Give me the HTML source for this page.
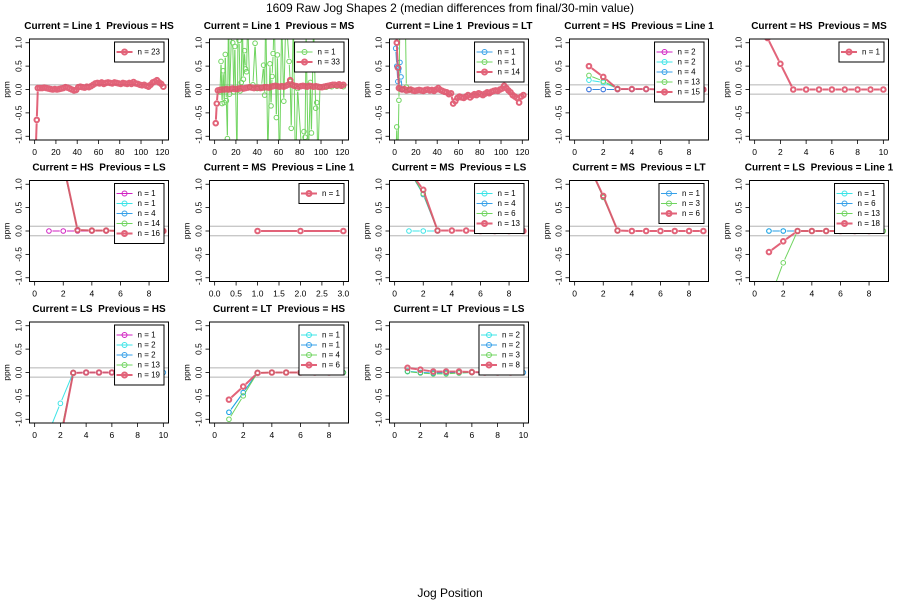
<!DOCTYPE html>
<html><head><meta charset="utf-8">
<style>
html,body{margin:0;padding:0;background:#fff;}
svg{display:block;font-family:"Liberation Sans",Arial,sans-serif;}
text{white-space:pre;}
</style></head>
<body>
<svg id="chart" width="900" height="600" viewBox="0 0 900 600" xmlns="http://www.w3.org/2000/svg">
<rect x="0" y="0" width="900" height="600" fill="#fff"/>
<text x="450" y="12" text-anchor="middle" font-size="12" fill="#000">1609 Raw Jog Shapes 2 (median differences from final/30-min value)</text>
<text x="450" y="597" text-anchor="middle" font-size="12" fill="#000">Jog Position</text>
<g id="panels"></g>
</svg>
<script>
// ---------- colours ----------
const RED="#DF536B", GREEN="#61D04F", BLUE="#2297E6", CYAN="#28E2E5", MAG="#CD0BBC";

// ---------- data ----------
const p1_red_x=[1,2,3,5,7,9,11,13,15,17,19,21,23,25,27,29,31,33,35,37,39,41,43,45,47,49,51,53,55,57,59,61,63,65,67,69,71,73,75,77,79,81,83,85,87,89,91,93,95,97,99,101,103,105,107,109,111,113,115,117,119,121];
const p1_red_y=[-1.3,-0.65,0.03,0.03,0.03,0.04,0.03,0.02,0.01,0.0,0.01,0.0,0.01,0.02,0.03,0.05,0.04,0.02,0.0,-0.02,-0.01,0.05,0.06,0.05,0.04,0.06,0.05,0.07,0.1,0.13,0.14,0.13,0.15,0.12,0.14,0.15,0.14,0.13,0.15,0.14,0.13,0.12,0.14,0.13,0.12,0.14,0.12,0.16,0.13,0.12,0.1,0.09,0.1,0.08,0.06,0.1,0.15,0.17,0.2,0.15,0.12,0.06];

const p2_red_x=p1_red_x;
const p2_red_y=[-0.72,-0.3,-0.02,-0.01,0.0,0.0,0.01,0.0,0.01,0.02,0.01,0.01,0.02,0.03,0.02,0.03,0.04,0.05,0.04,0.03,0.04,0.04,0.03,0.04,0.05,0.05,0.04,0.06,0.07,0.08,0.07,0.06,0.07,0.06,0.08,0.1,0.2,0.1,0.08,0.07,0.06,0.07,0.08,0.07,0.06,0.08,0.07,0.06,0.07,0.06,0.05,0.05,0.06,0.07,0.08,0.09,0.1,0.1,0.09,0.11,0.08,0.1];
const p2_green_x=[5,6,7,8,9,10,11,12,13,14,16,17,18,19,21,22,23,24,25,26,27,28,29,30,31,33,36,38,40,44,46,47,48,50,52,53,54,55,56,58,59,61,63,65,67,70,71,72,74,76,78,82,84,85,86,88,90,91,93,95,96,97,99,105,110,115,121];
const p2_green_y=[-0.05,0.6,-0.3,0.4,-0.28,0.75,-0.24,-1.05,1.8,-0.1,1.3,1.0,-0.05,0.92,-1.5,1.4,1.05,-0.03,0.15,1.6,0.22,0.83,0.44,0.38,1.5,0.05,0.1,0.99,0.02,0.05,0.52,-0.12,1.7,-1.4,0.55,-0.35,0.28,0.77,1.6,-0.6,0.74,-1.7,1.5,-0.25,1.6,0.6,0.17,-0.83,1.5,-1.8,0.02,-1.4,-0.9,-1.02,1.2,-1.6,0.15,-0.93,1.4,-0.4,-0.28,-1.6,0.05,0.05,0.06,0.07,0.06];

const p3_blue_x=[1,2,3,4,5,6,7];
const p3_blue_y=[0.88,0.5,0.17,0.45,0.58,0.27,0.0];
const p3_green_x=[1,2,3,4,5,10,11,14];
const p3_green_y=[-1.6,-0.8,-1.6,-0.23,1.6,1.6,0.05,0.0];
const p3_red_x=[1,2,3,4,5,7,9,11,13,15,17,19,21,23,25,27,29,31,33,35,37,39,41,43,45,47,49,51,53,55,57,59,61,63,65,67,69,71,73,75,77,79,81,83,85,87,89,91,93,95,97,99,101,103,105,107,109,111,113,115,117,119,121];
const p3_red_y=[1.3,1.0,0.47,0.03,0.02,0.0,0.01,-0.02,-0.01,0.0,-0.02,-0.03,-0.02,-0.01,-0.02,-0.03,-0.01,0.0,-0.02,-0.01,-0.03,0.0,0.03,-0.01,-0.03,-0.05,-0.06,-0.1,-0.08,-0.3,-0.25,-0.18,-0.15,-0.17,-0.18,-0.15,-0.12,-0.17,-0.13,-0.1,-0.12,-0.08,-0.1,-0.12,-0.09,-0.06,-0.08,-0.05,-0.03,-0.02,-0.03,0.0,0.02,0.08,0.03,-0.02,-0.06,-0.12,-0.15,-0.18,-0.28,-0.15,-0.12];

const p4_mag_y=[0,0,0];
const p4_cyan_y=[0.2,0.15,0.02];
const p4_blue_y=[0,0,0,0,0,0,0,0,0];
const p4_green_y=[0.3,0.18,0.02];
const p4_red_y=[0.5,0.27,0.01,0.01,0.01,0.0,0.0,0.0,0.0];

const p5_red_y=[1.1,0.55,0,0,0,0,0,0,0,0];

const p6_mag_y=[0,0,0,0,0,0,0,0,0];
const p6_cyan_y=[1.6,1.4,0.02];
const p6_blue_y=[1.6,1.4,0.02];
const p6_green_y=[1.6,1.4,0.02,0.01,0.01,0,0,0,0];
const p6_red_y=[1.6,1.45,0.02,0.01,0.01,0,0,0,0];

const p7_red_y=[0,0,0];

const p8_cyan_y=[0,0,0];
const p8_blue_y=[1.3,0.78,0.01];
const p8_green_y=[1.3,0.8,0.01];
const p8_red_y=[1.3,0.88,0.01,0.01,0.01,0,0,0,0];

const p9_blue_y=[1.4,0.72,0.01];
const p9_green_y=[1.4,0.72,0.01];
const p9_red_y=[1.4,0.75,0.01,0,0,0,0,0,0];

const p10_cyan_y=[0,0,0];
const p10_blue_y=[0,0,0,0,0,0];
const p10_green_y=[-1.5,-0.68,0.0,0,0,0,0,0,0];
const p10_red_y=[-0.45,-0.22,0.0,0,0,0,0,0];

const p11_mag_y=[-1.4,-1.43,0.0];
const p11_cyan_y=[-1.34,-0.66,0.0];
const p11_blue_y=[-1.4,-1.43,0.0,0,0,0,0,0,0,0];
const p11_green_y=[-1.4,-1.34,0.0];
const p11_red_y=[-1.5,-1.43,-0.01,0,0,0];

const p12_cyan_y=[-0.85,-0.43,0.0];
const p12_blue_y=[-0.85,-0.43,0.0,0,0,0,0,0,0];
const p12_green_y=[-1.0,-0.5,0.0,0,0,0,0,0,0];
const p12_red_y=[-0.58,-0.3,-0.01,0,0,0,0,0];

const p13_cyan_y=[0.03,0.0,-0.02,-0.01,-0.01,0];
const p13_blue_y=[0.02,0.0,-0.01,0,0,0,0,0,0,0];
const p13_green_y=[0.02,-0.01,-0.03,-0.03,-0.01,0];
const p13_red_y=[0.1,0.06,0.02,0.02,0.02,0.01,0,0,0];

const ticks_wide=[0,20,40,60,80,100,120];
const ticks_9=[0,2,4,6,8];
const ticks_10=[0,2,4,6,8,10];
const ticks_3=[0,0.5,1,1.5,2,2.5,3];
const ticks_3_labels=["0.0","0.5","1.0","1.5","2.0","2.5","3.0"];
const yticks=[-1,-0.5,0,0.5,1];
const ytick_labels=["-1.0","-0.5","0.0","0.5","1.0"];

function idx(arr){const r=[];for(let i=0;i<arr.length;i++)r.push(i+1);return r;}
function S(col,n,y,x,lw){return {col:col,n:n,y:y,x:x||idx(y),lw:lw||1};}

const panels=[
 {t:"Current = Line 1  Previous = HS",xr:[0,121],xt:ticks_wide,s:[S(RED,23,p1_red_y,p1_red_x,2)]},
 {t:"Current = Line 1  Previous = MS",xr:[0,121],xt:ticks_wide,s:[S(GREEN,1,p2_green_y,p2_green_x,1),S(RED,33,p2_red_y,p2_red_x,2)]},
 {t:"Current = Line 1  Previous = LT",xr:[0,121],xt:ticks_wide,s:[S(BLUE,1,p3_blue_y,p3_blue_x,1),S(GREEN,1,p3_green_y,p3_green_x,1),S(RED,14,p3_red_y,p3_red_x,2)]},
 {t:"Current = HS  Previous = Line 1",xr:[0,9],xt:ticks_9,s:[S(MAG,2,p4_mag_y),S(CYAN,2,p4_cyan_y),S(BLUE,4,p4_blue_y),S(GREEN,13,p4_green_y),S(RED,15,p4_red_y,null,2)]},
 {t:"Current = HS  Previous = MS",xr:[0,10],xt:ticks_10,s:[S(RED,1,p5_red_y,null,2)]},
 {t:"Current = HS  Previous = LS",xr:[0,9],xt:ticks_9,s:[S(MAG,1,p6_mag_y),S(CYAN,1,p6_cyan_y),S(BLUE,4,p6_blue_y),S(GREEN,14,p6_green_y),S(RED,16,p6_red_y,null,2)]},
 {t:"Current = MS  Previous = Line 1",xr:[0,3],xt:ticks_3,xl:ticks_3_labels,s:[S(RED,1,p7_red_y,null,2)]},
 {t:"Current = MS  Previous = LS",xr:[0,9],xt:ticks_9,s:[S(CYAN,1,p8_cyan_y),S(BLUE,4,p8_blue_y),S(GREEN,6,p8_green_y),S(RED,13,p8_red_y,null,2)]},
 {t:"Current = MS  Previous = LT",xr:[0,9],xt:ticks_9,s:[S(BLUE,1,p9_blue_y),S(GREEN,3,p9_green_y),S(RED,6,p9_red_y,null,2)]},
 {t:"Current = LS  Previous = Line 1",xr:[0,9],xt:ticks_9,s:[S(CYAN,1,p10_cyan_y),S(BLUE,6,p10_blue_y),S(GREEN,13,p10_green_y),S(RED,18,p10_red_y,null,2)]},
 {t:"Current = LS  Previous = HS",xr:[0,10],xt:ticks_10,s:[S(MAG,1,p11_mag_y),S(CYAN,2,p11_cyan_y),S(BLUE,2,p11_blue_y),S(GREEN,13,p11_green_y),S(RED,19,p11_red_y,null,2)]},
 {t:"Current = LT  Previous = HS",xr:[0,9],xt:ticks_9,s:[S(CYAN,1,p12_cyan_y),S(BLUE,1,p12_blue_y),S(GREEN,4,p12_green_y),S(RED,6,p12_red_y,null,2)]},
 {t:"Current = LT  Previous = LS",xr:[0,10],xt:ticks_10,s:[S(CYAN,2,p13_cyan_y),S(BLUE,2,p13_blue_y),S(GREEN,3,p13_green_y),S(RED,8,p13_red_y,null,2)]}
];

const NS="http://www.w3.org/2000/svg";
function el(tag,attrs,parent){const e=document.createElementNS(NS,tag);for(const k in attrs)e.setAttribute(k,attrs[k]);if(parent)parent.appendChild(e);return e;}
const root=document.getElementById("panels");

panels.forEach((p,pi)=>{
  const col=pi%5,row=Math.floor(pi/5);
  const L=29.5+180*col,T=39+141.5*row,W=139,H=101;
  const ext=(p.xr[1]-p.xr[0])*0.04;
  const x0=p.xr[0]-ext,x1=p.xr[1]+ext;
  const sx=v=>L+(v-x0)/(x1-x0)*W;
  const sy=v=>T+(1.08-v)/2.16*H;
  const g=el("g",{},root);
  
  
  const clipId="clip"+pi;
  const cp=el("clipPath",{id:clipId},g);
  el("rect",{x:L,y:T,width:W,height:H},cp);
  const tt=el("text",{x:L+W/2,y:T-10,"text-anchor":"middle","font-size":"10","font-weight":"bold","xml:space":"preserve"},g);
  tt.textContent=p.t;
  
  
  [0.1,-0.1].forEach(v=>{
    const ln=el("line",{x1:L,x2:L+W,y1:sy(v),y2:sy(v),stroke:"#c8c8c8","stroke-width":"1.3"},g);
    
    
  });
  const plot=el("g",{"clip-path":"url(#"+clipId+")"},g);
  p.s.forEach(s=>{
    const sg=el("g",{stroke:s.col,fill:"none","stroke-width":s.lw,opacity:"0.9"},plot);
    
    
    const pts=s.y.map((v,i)=>[sx(s.x[i]),sy(v)]);
    const gap=3.5;
    for(let i=0;i<pts.length-1;i++){
      const [ax,ay]=pts[i],[bx,by]=pts[i+1];
      const d=Math.hypot(bx-ax,by-ay);
      if(d>2*gap){
        const ux=(bx-ax)/d,uy=(by-ay)/d;
        const seg=el("line",{x1:ax+ux*gap,y1:ay+uy*gap,x2:bx-ux*gap,y2:by-uy*gap},sg);
        
        
      }
    }
    pts.forEach(pt=>{
      const c=el("circle",{cx:pt[0],cy:pt[1],r:2.3},sg);
      
      
    });
  });
  const bx=el("rect",{x:L,y:T,width:W,height:H,fill:"none",stroke:"#000","stroke-width":"1"},g);
  
  
  p.xt.forEach((v,i)=>{
    const X=sx(v);
    const tk=el("line",{x1:X,x2:X,y1:T+H,y2:T+H+4,stroke:"#000","stroke-width":"0.8"},g);
    
    
    const lb=el("text",{x:X,y:T+H+15,"text-anchor":"middle","font-size":"8.5"},g);
    lb.textContent=p.xl?p.xl[i]:String(v);
    
    
  });
  yticks.forEach((v,i)=>{
    const Y=sy(v);
    const tk=el("line",{x1:L-4,x2:L,y1:Y,y2:Y,stroke:"#000","stroke-width":"0.8"},g);
    
    
    const lb=el("text",{x:0,y:0,"text-anchor":"middle","font-size":"8.5",transform:"translate("+(L-8)+","+Y+") rotate(-90)"},g);
    lb.textContent=ytick_labels[i];
    
    
  });
  const yl=el("text",{x:0,y:0,"text-anchor":"middle","font-size":"8.5",transform:"translate("+(L-20)+","+(T+H/2)+") rotate(-90)"},g);
  yl.textContent="ppm";
  
  
  const lg=el("g",{},g);
  
  
  const lbox=el("rect",{fill:"#fff",stroke:"#000","stroke-width":"1"},lg);
  let maxW=0;const texts=[];
  p.s.forEach((s,i)=>{
    const tx=el("text",{x:0,y:0,"font-size":"8","dominant-baseline":"central","xml:space":"preserve"},lg);
    tx.textContent="n = "+s.n;
    
    
    texts.push(tx);
    let w=0;try{w=tx.getComputedTextLength();}catch(e){}
    if(!w)w=tx.textContent.length*4;
    maxW=Math.max(maxW,w);
  });
  const LW=23+maxW+4, LH=10*p.s.length+10;
  const LX=L+W-4.5-LW, LY=T+3;
  lbox.setAttribute("x",LX);lbox.setAttribute("y",LY);
  lbox.setAttribute("width",LW);lbox.setAttribute("height",LH);
  p.s.forEach((s,i)=>{
    const cy=LY+10+10*i;
    const sym=el("g",{stroke:s.col,fill:"none","stroke-width":s.lw,opacity:"0.9"},lg);
    
    
    el("line",{x1:LX+2,x2:LX+18,y1:cy,y2:cy},sym);
    el("circle",{cx:LX+10,cy:cy,r:2.5},sym);
    texts[i].setAttribute("x",LX+23);
    texts[i].setAttribute("y",cy);
  });
});
</script>
</body></html>
